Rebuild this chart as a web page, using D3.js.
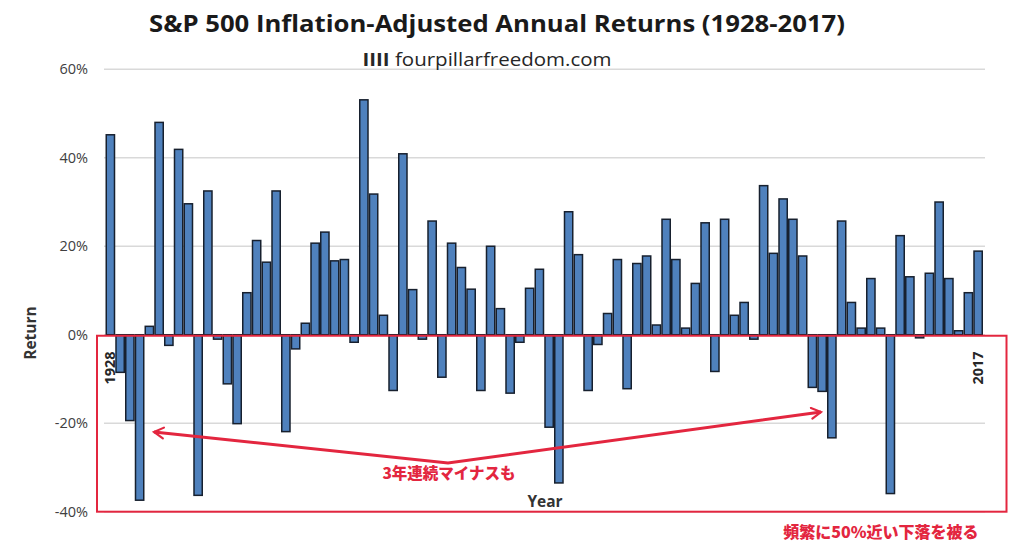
<!DOCTYPE html>
<html><head><meta charset="utf-8">
<script src="https://cdn.jsdelivr.net/npm/d3@7"></script>
<style>
body{margin:0;background:#fff;}
svg{display:block;}
</style></head>
<body><svg id="c" width="1024" height="558"></svg>
<script>
const startYear = 1928, endYear = 2017;
const years = d3.range(startYear, endYear + 1);
const returns = [
 45.2, -8.5, -19.4, -37.4, 1.9, 48.0, -2.4, 41.9, 29.6, -36.3,
 32.5, -1.0, -11.1, -20.1, 9.5, 21.3, 16.4, 32.5, -21.9, -3.2,
 2.6, 20.7, 23.2, 16.7, 17.0, -1.7, 53.1, 31.8, 4.4, -12.6,
 40.9, 10.2, -1.0, 25.7, -9.6, 20.7, 15.2, 10.3, -12.6, 20.0,
 5.9, -13.2, -1.7, 10.5, 14.8, -20.9, -33.5, 27.8, 18.1, -12.6,
 -2.2, 4.8, 17.0, -12.2, 16.1, 17.8, 2.2, 26.1, 17.0, 1.5,
 11.6, 25.3, -8.3, 26.1, 4.4, 7.3, -1.0, 33.7, 18.4, 30.7,
 26.1, 17.8, -11.9, -12.8, -23.3, 25.7, 7.3, 1.5, 12.7, 1.5,
 -35.9, 22.4, 13.1, -0.7, 13.9, 30.0, 12.7, 0.9, 9.5, 18.9
];
const yTicks = [-40, -20, 0, 20, 40, 60];
const titleText = "S&P 500 Inflation-Adjusted Annual Returns (1928-2017)";
const subtitleMark = "IIII";
const subtitleText = " fourpillarfreedom.com";
const xAxisTitle = "Year";
const yAxisTitle = "Return";
const note1 = "3年連続マイナスも";
const note2 = "頻繁に50%近い下落を被る";

const svg = d3.select("#c");
const red = "#e3263f";
const jp = "'Noto Sans CJK JP', sans-serif";

const x = d3.scaleBand().domain(years).range([105.5, 983]).padding(0);
const y = d3.scaleLinear().domain([-40, 60]).range([511.7, 69.3]);

// gridlines
svg.append("g").selectAll("line").data(yTicks).join("line")
  .attr("x1", 104).attr("x2", 985)
  .attr("y1", d => y(d)).attr("y2", d => y(d))
  .attr("stroke", "#d9d9d9").attr("stroke-width", 1.5);

// y tick labels via axis
const yAxis = d3.axisLeft(y).tickValues(yTicks).tickSize(0).tickPadding(0)
  .tickFormat(d => d + "%");
const ga = svg.append("g").attr("transform", "translate(88,0)").call(yAxis);
ga.select(".domain").remove();
ga.selectAll("text").attr("font-family", "'Open Sans', sans-serif")
  .attr("font-size", 14.5).attr("fill", "#404040");

// title
svg.append("text").attr("x", 497).attr("y", 32).attr("text-anchor", "middle")
  .attr("font-family", "'Open Sans', sans-serif").attr("font-weight", "bold")
  .attr("font-size", 24).attr("fill", "#1a1a1a").text(titleText)
  .attr("textLength", 696).attr("lengthAdjust", "spacingAndGlyphs");

// subtitle
const st = svg.append("text").attr("x", 487).attr("y", 66).attr("text-anchor", "middle")
  .attr("font-family", "'Open Sans', sans-serif")
  .attr("font-size", 17.5).attr("fill", "#262626")
  .attr("textLength", 249).attr("lengthAdjust", "spacingAndGlyphs");
st.append("tspan").attr("font-weight", "bold").text(subtitleMark);
st.append("tspan").text(subtitleText);

// bars
svg.append("g").selectAll("rect").data(years).join("rect")
  .attr("x", d => x(d) + 0.75)
  .attr("width", x.bandwidth() - 1.5)
  .attr("y", (d, i) => y(Math.max(0, returns[i])))
  .attr("height", (d, i) => Math.abs(y(returns[i]) - y(0)))
  .attr("fill", "#4f81bd").attr("stroke", "#17202e").attr("stroke-width", 1.5);

// 1928 / 2017 labels
[[startYear, 0], [endYear, years.length - 1]].forEach(([yr, i]) => {
  const cx = x(years[i]) + x.bandwidth() / 2;
  svg.append("text").attr("transform", `translate(${cx + 5},368) rotate(-90)`)
    .attr("text-anchor", "middle").attr("font-family", "'Open Sans', sans-serif")
    .attr("font-weight", "bold").attr("font-size", 14.5).attr("fill", "#262626").text(yr);
});

// axis titles
svg.append("text").attr("x", 545).attr("y", 507).attr("text-anchor", "middle")
  .attr("font-family", "'Open Sans', sans-serif").attr("font-weight", "bold")
  .attr("font-size", 15.5).attr("fill", "#333").text(xAxisTitle);
svg.append("text").attr("transform", "translate(36,333) rotate(-90)")
  .attr("text-anchor", "middle").attr("font-family", "'Open Sans', sans-serif")
  .attr("font-weight", "bold").attr("font-size", 15.5).attr("fill", "#333").text(yAxisTitle);

// red box
svg.append("rect").attr("x", 97).attr("y", y(0) + 1).attr("width", 909.5)
  .attr("height", 511.7 - y(0) - 1).attr("fill", "none")
  .attr("stroke", red).attr("stroke-width", 2);

// arrows
const defs = svg.append("defs");
defs.append("marker").attr("id", "ah").attr("viewBox", "0 0 10 10")
  .attr("refX", 8).attr("refY", 5).attr("markerWidth", 4.5).attr("markerHeight", 4.5)
  .attr("orient", "auto-start-reverse").attr("markerUnits", "strokeWidth")
  .append("path").attr("d", "M1,1 L8,5 L1,9").attr("fill", "none")
  .attr("stroke", red).attr("stroke-width", 1.6).attr("stroke-linecap", "round");
svg.append("path").attr("d", "M154,432 L448,463 L821,412")
  .attr("fill", "none").attr("stroke", red).attr("stroke-width", 3)
  .attr("marker-start", "url(#ah)").attr("marker-end", "url(#ah)");

// notes
svg.append("text").attr("x", 449).attr("y", 479).attr("text-anchor", "middle")
  .attr("font-family", jp).attr("font-weight", "900").attr("font-size", 15.5)
  .attr("fill", red).text(note1);
svg.append("text").attr("x", 881).attr("y", 538).attr("text-anchor", "middle")
  .attr("font-family", jp).attr("font-weight", "900").attr("font-size", 16)
  .attr("fill", red).text(note2);
</script></body></html>
